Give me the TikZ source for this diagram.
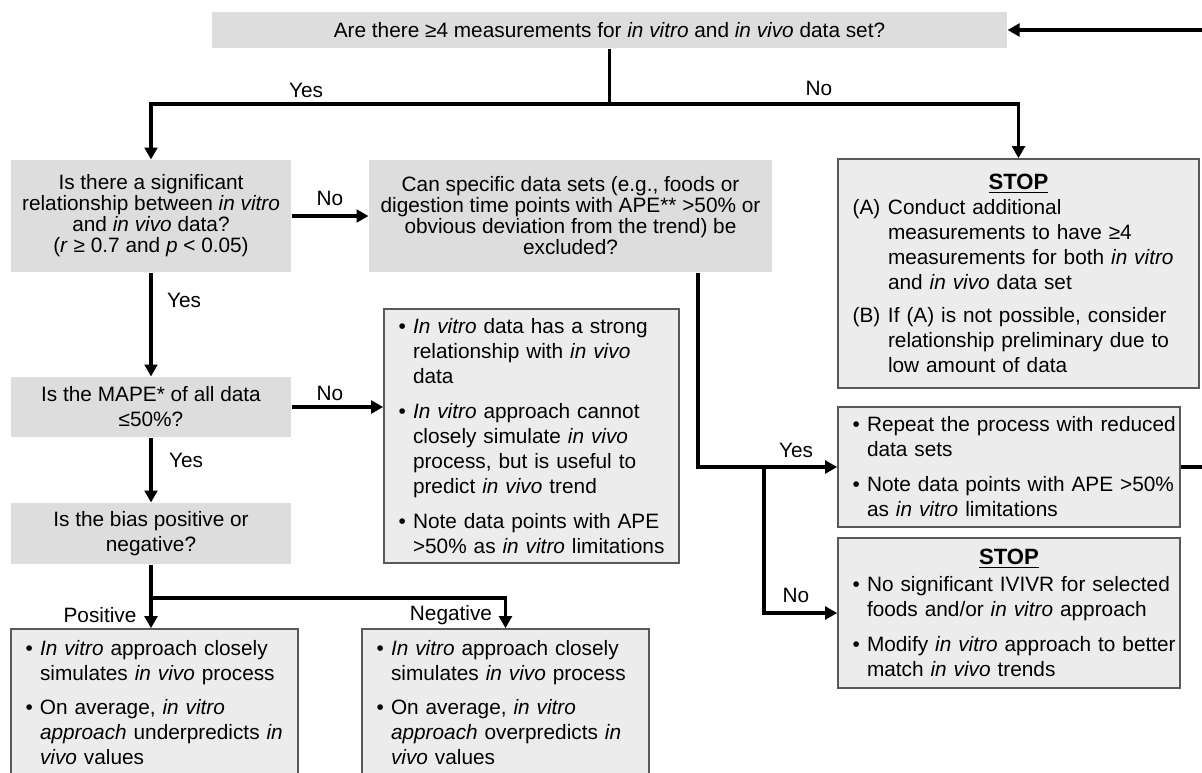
\documentclass[tikz,border=0pt]{standalone}
\usepackage{fontspec}
\setmainfont{Liberation Sans}
\usetikzlibrary{arrows.meta}

\definecolor{qgray}{RGB}{221,221,221}
\definecolor{boxfill}{RGB}{236,236,236}
\definecolor{boxline}{RGB}{89,89,89}

\newcommand{\qfont}{\fontsize{15.6pt}{15.75pt}\selectfont}
\newcommand{\bfont}{\fontsize{15.6pt}{18.75pt}\selectfont}
% bullet line, indented line, lettered line
\newcommand{\bl}[1]{\makebox[10.75pt][l]{\textbullet}\mbox{#1}}
\newcommand{\il}[1]{\hspace*{10.75pt}\mbox{#1}}
\newcommand{\al}[2]{\makebox[26.5pt][l]{#1}\mbox{#2}}
\newcommand{\hl}[1]{\hspace*{26.5pt}\mbox{#1}}
\newlength{\stopw}
\newcommand{\stoptitle}{\makebox[\linewidth]{\fontsize{16.6pt}{18.75pt}\selectfont\settowidth{\stopw}{\textbf{STOP}}%
  \textbf{STOP}\llap{\rule[-2.6pt]{\stopw}{1.2pt}}}}

\tikzset{every picture/.style={line width=0.75pt}}
\tikzset{
  qbox/.style={fill=qgray, inner sep=0pt, align=center, font=\qfont},
  infobox/.style={draw=boxline, fill=boxfill, line width=1.2pt, inner xsep=11pt, inner ysep=0pt, align=left, font=\bfont},
  flow/.style={line width=2.5pt, -{Triangle[length=9pt,width=9.5pt]}},
  lbl/.style={inner sep=0.75pt, font=\bfont}
}

\begin{document}
\begin{tikzpicture}[x=0.75pt,y=0.75pt,yscale=-1,xscale=1]
\useasboundingbox (0,0) rectangle (1202,772);

%Shape: Rectangle [id:q0]
\node[qbox, minimum width=596.25pt, minimum height=27pt] (q0) at (609.5,30) {Are there ≥4 measurements for \textit{in vitro} and \textit{in vivo} data set?};
%Shape: Rectangle [id:q1]
\node[qbox, minimum width=210pt, minimum height=84pt] (q1) at (151,216) {Is there a significant\\relationship between \textit{in vitro}\\and \textit{in vivo} data?\\(\textit{r} ≥ 0.7 and \textit{p} < 0.05)};
%Shape: Rectangle [id:q2]
\node[qbox, minimum width=302.25pt, minimum height=84pt] (q2) at (570.5,216) {Can specific data sets (e.g., foods or\\digestion time points with APE** >50\% or\\obvious deviation from the trend) be\\excluded?};
%Shape: Rectangle [id:q3]
\node[qbox, font=\bfont, minimum width=210pt, minimum height=45pt] (q3) at (151,407) {Is the MAPE* of all data\\≤50\%?};
%Shape: Rectangle [id:q5]
\node[qbox, font=\bfont, minimum width=210pt, minimum height=45.75pt] (q5) at (151,533.5) {Is the bias positive or\\negative?};

%Shape: Rectangle [id:stop1]
\node[infobox, minimum width=270.75pt, minimum height=171.75pt, text width=248.75pt] (stop1) at (1018.5,273.5) {\stoptitle\\
\al{(A)}{Conduct additional}\\\hl{measurements to have ≥4}\\\hl{measurements for both \textit{in vitro}}\\\hl{and \textit{in vivo} data set}\\[6pt]
\al{(B)}{If (A) is not possible, consider}\\\hl{relationship preliminary due to}\\\hl{low amount of data}};
%Shape: Rectangle [id:info]
\node[infobox, minimum width=221.25pt, minimum height=190.5pt, text width=199.25pt] (info) at (531.5,436) {\bl{\textit{In vitro} data has a strong}\\\il{relationship with \textit{in vivo}}\\\il{data}\\[7.5pt]
\bl{\textit{In vitro} approach cannot}\\\il{closely simulate \textit{in vivo}}\\\il{process, but is useful to}\\\il{predict \textit{in vivo} trend}\\[7.5pt]
\bl{Note data points with APE}\\\il{>50\% as \textit{in vitro} limitations}};
%Shape: Rectangle [id:repeat]
\node[infobox, minimum width=256.5pt, minimum height=90pt, text width=234.5pt] (repeat) at (1009,467) {\bl{Repeat the process with reduced}\\\il{data sets}\\[7.5pt]
\bl{Note data points with APE >50\%}\\\il{as \textit{in vitro} limitations}};
%Shape: Rectangle [id:stop2]
\node[infobox, minimum width=256.5pt, minimum height=112.5pt, text width=234.5pt] (stop2) at (1009,613) {\stoptitle\\[1.5pt]
\bl{No significant IVIVR for selected}\\\il{foods and/or \textit{in vitro} approach}\\[7.5pt]
\bl{Modify \textit{in vitro} approach to better}\\\il{match \textit{in vivo} trends}};
%Shape: Rectangle [id:pos]
\node[infobox, minimum width=215.25pt, minimum height=110.25pt, text width=193.25pt] (pos) at (154.5,702.5) {\bl{\textit{In vitro} approach closely}\\\il{simulates \textit{in vivo} process}\\[7pt]
\bl{On average, \textit{in vitro}}\\\il{\textit{approach} underpredicts \textit{in}}\\\il{\textit{vivo} values}};
%Shape: Rectangle [id:neg]
\node[infobox, minimum width=215.25pt, minimum height=110.25pt, text width=193.25pt] (neg) at (505.5,702.5) {\bl{\textit{In vitro} approach closely}\\\il{simulates \textit{in vivo} process}\\[7pt]
\bl{On average, \textit{in vitro}}\\\il{\textit{approach} overpredicts \textit{in}}\\\il{\textit{vivo} values}};

%Straight Lines [id:forks]
\coordinate (fork) at (609.5,104);
\coordinate (bias) at (151,598);
\coordinate (excl) at (698,467);
\coordinate (keep) at (764,467);

%Straight Lines [id:arrows]
\draw[flow] (q0.south) -- (fork) -| (q1.north);
\draw[flow] (fork) -| (stop1.north);
\draw[flow] (q1.east) -- (q2.west);
\draw[flow] (q1.south) -- (q3.north);
\draw[flow] (q3.east) -- (q3.east -| info.west);
\draw[flow] (q3.south) -- (q5.north);
\draw[flow] (q5.south) -- (q5.south |- pos.north);
\draw[flow] (bias) -| (neg.north);
\draw[flow] (q2.south -| excl) -- (excl) -- (repeat.west);
\draw[flow] (keep) |- (stop2.west);
\draw[flow] (repeat.east) -- ++(40,0) |- (q0.east);

% Text Node
\node[lbl] (yes1) at (306,90) {Yes};
% Text Node
\node[lbl] (no1) at (819,88) {No};
% Text Node
\node[lbl] (no2) at (330,198) {No};
% Text Node
\node[lbl] (yes2) at (184,300) {Yes};
% Text Node
\node[lbl] (no3) at (330,393) {No};
% Text Node
\node[lbl] (yes3) at (186,460) {Yes};
% Text Node
\node[lbl] (lpos) at (100,615) {Positive};
% Text Node
\node[lbl] (lneg) at (451,615) {Negative};
% Text Node
\node[lbl] (yes4) at (796,450) {Yes};
% Text Node
\node[lbl] (no4) at (796,595) {No};

\end{tikzpicture}
\end{document}
